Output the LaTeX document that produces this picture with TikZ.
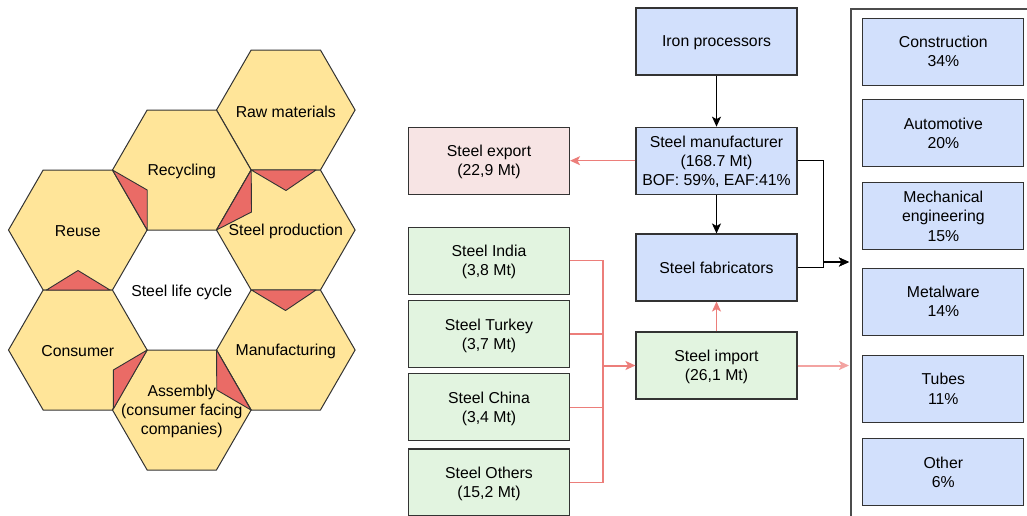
\documentclass[tikz,border=0pt]{standalone}
\usepackage{fontspec}
\setmainfont{Liberation Sans}
\usetikzlibrary{arrows.meta}

\definecolor{hexfill}{HTML}{FFE599}
\definecolor{hexmark}{HTML}{EA6B66}
\definecolor{bluefill}{HTML}{D2E0FC}
\definecolor{greenfill}{HTML}{E2F4E0}
\definecolor{pinkfill}{HTML}{F7E4E4}
\definecolor{edgegray}{HTML}{333333}
\definecolor{flowred}{HTML}{EC7E7A}
\definecolor{flowredsoft}{HTML}{F3A3A1}

\newcommand\lab{\fontsize{15.8}{19.2}\selectfont}

% one cell of the honeycomb: name, centre x, centre y, text
\newcommand\lifehex[4]{%
  \draw[hexline] (#2+69.3,#3) -- (#2+34.65,#3-60) -- (#2-34.65,#3-60)
     -- (#2-69.3,#3) -- (#2-34.65,#3+60) -- (#2+34.65,#3+60) -- cycle;
  \node[hextext] (#1) at (#2,#3) {#4};}

\begin{document}
\begin{tikzpicture}[x=1pt,y=-1pt,
  hexline/.style={fill=hexfill, draw=edgegray, line width=1pt, line join=miter},
  hextext/.style={font=\lab, align=center, inner sep=0pt, yshift=-1.5pt},
  hexflag/.style={fill=hexmark, draw=edgegray, line width=0.9pt, line join=round},
  flowbox/.style={draw=edgegray, line width=1.1pt, minimum width=161pt,
                  minimum height=67pt, align=center, inner sep=0pt, font=\lab,
                  text depth=0.2pt},
  iron/.style={flowbox, fill=bluefill},
  importbox/.style={flowbox, fill=greenfill},
  exportbox/.style={flowbox, fill=pinkfill},
  tip/.style={-{Stealth[length=10pt,width=9pt,inset=2.5pt]}},
  blackflow/.style={draw=black, line width=1.2pt, tip},
  redflow/.style={draw=flowred, line width=1.2pt, tip},
  redfeed/.style={draw=flowred, line width=1.3pt},
  container/.style={draw=black!70, line width=1.6pt, anchor=north west,
                    minimum width=230pt, minimum height=560pt, inner sep=0pt}
]
\useasboundingbox (0,0) rectangle (1027,515);

% ---------------- steel life cycle honeycomb ----------------
\lifehex{raw}{285.8}{110}{Raw materials}
\lifehex{recycling}{181.8}{170}{Recycling}
\lifehex{production}{285.8}{230}{Steel production}
\lifehex{reuse}{77.8}{230}{Reuse}
\lifehex{consumer}{77.8}{350}{Consumer}
\lifehex{manufacturing}{285.8}{350}{Manufacturing}
\lifehex{assembly}{181.8}{410}{Assembly\\(consumer facing\\companies)}
\node[hextext] (cycle) at (181.8,291) {Steel life cycle};

% direction markers between neighbouring cells
\draw[hexflag] (251.2,170) -- (316,170) -- (286,190.5) -- cycle;
\draw[hexflag] (112.5,170) -- (147.2,190) -- (147.2,230) -- cycle;
\draw[hexflag] (251.2,170) -- (251.5,212) -- (216.5,230) -- cycle;
\draw[hexflag] (46.5,290) -- (110,290) -- (78,270.5) -- cycle;
\draw[hexflag] (251.5,290) -- (316,290) -- (285.5,310.5) -- cycle;
\draw[hexflag] (147.2,350) -- (113.3,370) -- (113.3,409) -- cycle;
\draw[hexflag] (216.5,350) -- (216.8,390) -- (251,410) -- cycle;

% ---------------- material flow ----------------
\node[iron] (ironproc) at (716.5,41.5) {Iron processors};
\node[iron] (manu) at (716.5,160.7) {Steel manufacturer\\(168.7 Mt)\\BOF: 59\%, EAF:41\%};
\node[iron] (fab) at (716.5,267.5) {Steel fabricators};
\node[importbox] (import) at (716.5,365.5) {Steel import\\(26,1 Mt)};
\node[exportbox] (export) at (489,160.7) {Steel export\\(22,9 Mt)};

\node[importbox] (india) at (489,260.7) {Steel India\\(3,8 Mt)};
\node[importbox] (turkey) at (489,334) {Steel Turkey\\(3,7 Mt)};
\node[importbox] (china) at (489,407.3) {Steel China\\(3,4 Mt)};
\node[importbox] (others) at (489,482.5) {Steel Others\\(15,2 Mt)};

% end-use sectors
\node[container] (sectors) at (850,8) {};
\node[iron] (construction) at (943.3,51.7) {Construction\\34\%};
\node[iron] (automotive) at (943.3,133.3) {Automotive\\20\%};
\node[iron] (mechanical) at (943.3,216.3) {Mechanical\\engineering\\15\%};
\node[iron] (metalware) at (943.3,301.7) {Metalware\\14\%};
\node[iron] (tubes) at (943.3,388.8) {Tubes\\11\%};
\node[iron] (other) at (943.3,472.2) {Other\\6\%};

\coordinate (feed) at (849,262);
\coordinate (importfeed) at (849,365.5);
\coordinate (merge) at (603,365.5);

\draw[blackflow] (ironproc) -- (manu);
\draw[blackflow] (manu) -- (fab);
\draw[redflow] (manu) -- (export);
\draw[blackflow] (manu.east) -- ++(26,0) |- (feed);
\draw[blackflow] (fab.east) -- ++(26,0) |- (feed);
\draw[redflow] (import) -- (fab);
\draw[draw=flowredsoft, line width=2pt, tip] (import.east) -- (importfeed);

\draw[redfeed] (india.east) -| (merge);
\draw[redfeed] (turkey.east) -| (merge);
\draw[redfeed] (china.east) -| (merge);
\draw[redfeed] (others.east) -| (merge);
\draw[redflow, line width=2pt] (merge) -- (import.west);
\end{tikzpicture}
\end{document}
